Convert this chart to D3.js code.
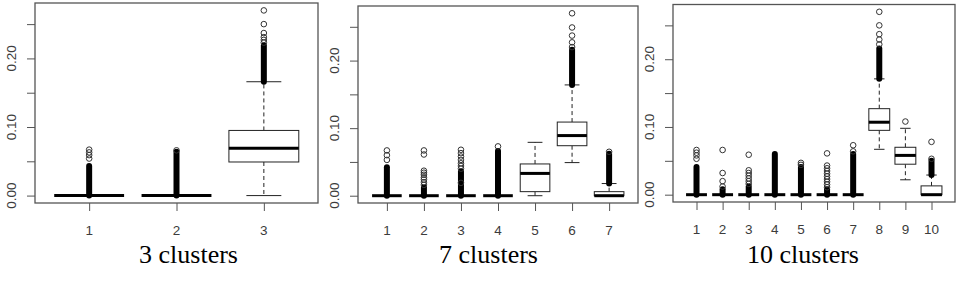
<!DOCTYPE html>
<html>
<head>
<meta charset="utf-8">
<script src="https://cdn.jsdelivr.net/npm/d3@7"></script>
<style>
  body { margin: 0; background: #fff; }
  svg { display: block; }
  .tick-label { font-family: "Liberation Sans", Arial, sans-serif; font-size: 13.5px; fill: #3c3c3c; }
  .caption { font-family: "Liberation Serif", "Times New Roman", serif; font-size: 26px; fill: #000; }
</style>
</head>
<body>
<script>
// ---- data ----
// box stats: [lower whisker, q1, median, q3, upper whisker]
const categories3 = ["1", "2", "3"];
const stats3 = [
  [0, 0, 0, 0, 0],
  [0, 0, 0, 0, 0],
  [0, 0.049, 0.069, 0.095, 0.166]
];
const dense3 = [[0, 0.043], [0, 0.064], [0.166, 0.219]];
const outliers3 = [
  [0.054, 0.059, 0.063, 0.067],
  [0.066],
  [0.223, 0.227, 0.231, 0.237, 0.250, 0.270]
];

const categories7 = ["1", "2", "3", "4", "5", "6", "7"];
const stats7 = [
  [0, 0, 0, 0, 0],
  [0, 0, 0, 0, 0],
  [0, 0, 0, 0, 0],
  [0, 0, 0, 0, 0],
  [0, 0.006, 0.033, 0.047, 0.079],
  [0.049, 0.074, 0.089, 0.109, 0.164],
  [0, 0, 0, 0.006, 0.018]
];
const dense7 = [[0, 0.042], [0, 0.012], [0, 0.036], [0, 0.066], null, [0.164, 0.216], [0.018, 0.062]];
const outliers7 = [
  [0.053, 0.060, 0.067],
  [0.016, 0.020, 0.024, 0.027, 0.031, 0.034, 0.037, 0.061, 0.067],
  [0.019, 0.040, 0.044, 0.048, 0.053, 0.058, 0.063, 0.068],
  [0.073],
  [],
  [0.220, 0.227, 0.237, 0.249, 0.270],
  [0.065]
];

const categories10 = ["1", "2", "3", "4", "5", "6", "7", "8", "9", "10"];
const stats10 = [
  [0, 0, 0, 0, 0],
  [0, 0, 0, 0, 0],
  [0, 0, 0, 0, 0],
  [0, 0, 0, 0, 0],
  [0, 0, 0, 0, 0],
  [0, 0, 0, 0, 0],
  [0, 0, 0, 0, 0],
  [0.067, 0.095, 0.107, 0.127, 0.171],
  [0.022, 0.045, 0.058, 0.070, 0.098],
  [0, 0, 0, 0.013, 0.029]
];
const dense10 = [[0, 0.041], [0, 0.008], [0, 0.012], [0, 0.060], [0, 0.041], [0, 0.008], [0, 0.060], [0.171, 0.216], null, [0.029, 0.050]];
const outliers10 = [
  [0.053, 0.058, 0.062, 0.066],
  [0.012, 0.020, 0.032, 0.066],
  [0.016, 0.020, 0.024, 0.028, 0.032, 0.036, 0.059],
  [],
  [0.044, 0.047],
  [0.011, 0.015, 0.019, 0.023, 0.027, 0.031, 0.035, 0.039, 0.043, 0.061],
  [0.064, 0.073],
  [0.222, 0.229, 0.237, 0.250, 0.270],
  [0.108],
  [0.053, 0.078]
];

const yTicks = [0, 0.05, 0.10, 0.15, 0.20, 0.25];
const yTickLabels = ["0.00", "0.10", "0.20"];
const captions = ["3 clusters", "7 clusters", "10 clusters"];

// ---- layout ----
const width = 960, height = 285;
const panels = [
  { cats: categories3, stats: stats3, dense: dense3, outs: outliers3, x0: 35, x1: 318, y0: 3, y1: 203, capX: 188.5 },
  { cats: categories7, stats: stats7, dense: dense7, outs: outliers7, x0: 358, x1: 638, y0: 6, y1: 203, capX: 488.5 },
  { cats: categories10, stats: stats10, dense: dense10, outs: outliers10, x0: 673, x1: 955, y0: 4.5, y1: 202, capX: 803 }
];

const svg = d3.select("body").append("svg")
  .attr("width", width)
  .attr("height", height);

panels.forEach((p, pi) => {
  const n = p.cats.length;
  const g = svg.append("g");

  // R style: xlim c(0.5, n+0.5), ylim from data, both padded by 4%
  const xScale = d3.scaleLinear()
    .domain([0.5 - 0.04 * n, n + 0.5 + 0.04 * n])
    .range([p.x0, p.x1]);
  const allVals = p.stats.flat().concat(p.outs.flat());
  const lo = d3.min(allVals), hi = d3.max(allVals);
  const pad = (hi - lo) * 0.04;
  const yScale = d3.scaleLinear()
    .domain([lo - pad, hi + pad])
    .range([p.y1, p.y0]);

  const unit = xScale(2) - xScale(1);
  const halfBox = 0.4 * unit;
  const halfCap = 0.2 * unit;

  // y axis ticks
  const yAxis = d3.axisLeft(yScale)
    .tickValues(yTicks)
    .tickSize(8)
    .tickFormat("");
  const yAxisG = g.append("g")
    .attr("transform", `translate(${p.x0},0)`)
    .call(yAxis);
  yAxisG.select(".domain").remove();
  yAxisG.selectAll(".tick line").attr("stroke", "#555");

  g.selectAll(".ylab")
    .data(yTickLabels)
    .join("text")
    .attr("class", "tick-label")
    .attr("text-anchor", "middle")
    .attr("transform", d => `translate(${p.x0 - 19},${yScale(+d)}) rotate(-90)`)
    .text(d => d);

  // x axis ticks
  const xAxis = d3.axisBottom(xScale)
    .tickValues(d3.range(1, n + 1))
    .tickSize(8)
    .tickFormat("");
  const xAxisG = g.append("g")
    .attr("transform", `translate(0,${p.y1})`)
    .call(xAxis);
  xAxisG.select(".domain").remove();
  xAxisG.selectAll(".tick line").attr("stroke", "#555");

  g.selectAll(".xlab")
    .data(p.cats)
    .join("text")
    .attr("class", "tick-label")
    .attr("text-anchor", "middle")
    .attr("x", (d, i) => xScale(i + 1))
    .attr("y", p.y1 + 32)
    .text(d => d);

  // frame
  g.append("rect")
    .attr("x", p.x0).attr("y", p.y0)
    .attr("width", p.x1 - p.x0).attr("height", p.y1 - p.y0)
    .attr("fill", "none")
    .attr("stroke", "#555")
    .attr("stroke-width", 1.3);

  // boxes
  const box = g.selectAll(".box")
    .data(p.stats)
    .join("g")
    .attr("class", "box");

  box.each(function (s, i) {
    const b = d3.select(this);
    const cx = xScale(i + 1);
    const ink = "#222";
    // whiskers
    if (s[4] > s[3]) {
      b.append("line")
        .attr("x1", cx).attr("x2", cx)
        .attr("y1", yScale(s[3])).attr("y2", yScale(s[4]))
        .attr("stroke", ink).attr("stroke-dasharray", "4,3");
      b.append("line")
        .attr("x1", cx - halfCap).attr("x2", cx + halfCap)
        .attr("y1", yScale(s[4])).attr("y2", yScale(s[4]))
        .attr("stroke", ink);
    }
    if (s[1] > s[0]) {
      b.append("line")
        .attr("x1", cx).attr("x2", cx)
        .attr("y1", yScale(s[1])).attr("y2", yScale(s[0]))
        .attr("stroke", ink).attr("stroke-dasharray", "4,3");
      b.append("line")
        .attr("x1", cx - halfCap).attr("x2", cx + halfCap)
        .attr("y1", yScale(s[0])).attr("y2", yScale(s[0]))
        .attr("stroke", ink);
    }
    // box
    if (s[3] > s[1]) {
      b.append("rect")
        .attr("x", cx - halfBox).attr("width", 2 * halfBox)
        .attr("y", yScale(s[3])).attr("height", yScale(s[1]) - yScale(s[3]))
        .attr("fill", "#fff").attr("stroke", ink);
    }
    // median
    b.append("line")
      .attr("x1", cx - halfBox).attr("x2", cx + halfBox)
      .attr("y1", yScale(s[2])).attr("y2", yScale(s[2]))
      .attr("stroke", "#000").attr("stroke-width", 3);

    // packed outliers (overlapping circles read as one black column)
    const dz = p.dense[i];
    if (dz) {
      b.append("line")
        .attr("x1", cx).attr("x2", cx)
        .attr("y1", yScale(dz[0])).attr("y2", yScale(dz[1]))
        .attr("stroke", "#000").attr("stroke-width", 6)
        .attr("stroke-linecap", "round");
    }
    // single outliers
    b.selectAll("circle")
      .data(p.outs[i])
      .join("circle")
      .attr("cx", cx)
      .attr("cy", d => yScale(d))
      .attr("r", 2.8)
      .attr("fill", "none")
      .attr("stroke", "#333")
      .attr("stroke-width", 1);
  });

  // caption
  g.append("text")
    .attr("class", "caption")
    .attr("text-anchor", "middle")
    .attr("x", p.capX)
    .attr("y", 263)
    .text(captions[pi]);
});
</script>
</body>
</html>
